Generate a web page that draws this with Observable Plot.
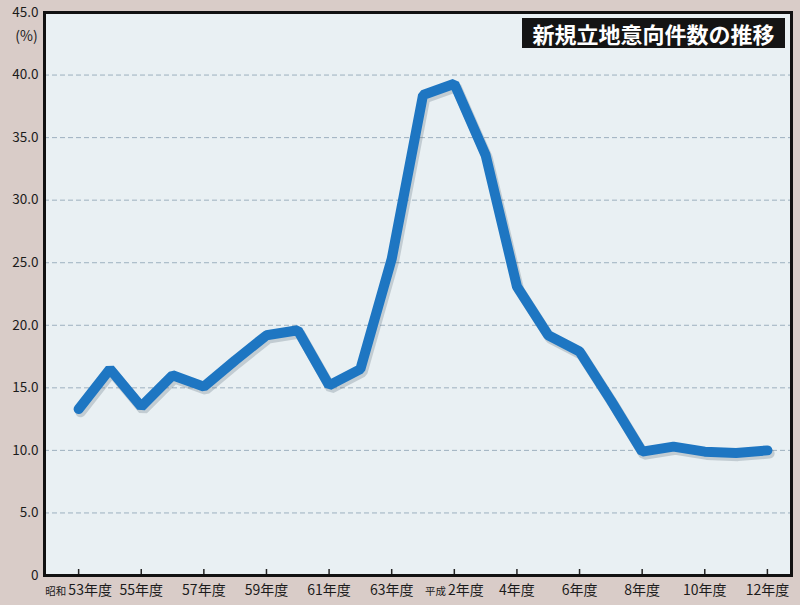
<!DOCTYPE html>
<html>
<head>
<meta charset="utf-8">
<script src="https://cdn.jsdelivr.net/npm/d3@7"></script>
<script src="https://cdn.jsdelivr.net/npm/@observablehq/plot@0.6"></script>
<style>
  body { margin: 0; background: #d9ccc8; }
  #chart { position: relative; width: 800px; height: 605px; }
  #chart svg { display: block; }
  #title {
    position: absolute; left: 522px; top: 18px; width: 263px; height: 30px;
    background: #141414; color: #fff;
    font: bold 22px "Noto Sans CJK JP", sans-serif;
    display: flex; align-items: center; justify-content: center;
  }
</style>
</head>
<body>
<div id="chart"><div id="title">新規立地意向件数の推移</div></div>
<script>
// Fiscal years 昭和53 (1978) through 平成12 (2000)
const fiscalYears = [1978, 1979, 1980, 1981, 1982, 1983, 1984, 1985, 1986, 1987, 1988,
  1989, 1990, 1991, 1992, 1993, 1994, 1995, 1996, 1997, 1998, 1999, 2000];
// Share of new siting intentions (%)
const shares = [13.3, 16.5, 13.5, 16.0, 15.1, 17.2, 19.2, 19.6, 15.2, 16.5, 25.3,
  38.4, 39.3, 33.6, 23.1, 19.2, 17.9, 14.0, 9.9, 10.3, 9.9, 9.8, 10.0];
const tickYears = [1978, 1980, 1982, 1984, 1986, 1988, 1990, 1992, 1994, 1996, 1998, 2000];
const tickLabels = ["昭和53年度", "55年度", "57年度", "59年度", "61年度", "63年度",
  "平成2年度", "4年度", "6年度", "8年度", "10年度", "12年度"];
const yTicks = [0, 5, 10, 15, 20, 25, 30, 35, 40, 45];

const data = fiscalYears.map((year, i) => ({year, share: shares[i]}));

const chart = Plot.plot({
  width: 800,
  height: 605,
  marginLeft: 44,
  marginRight: 9,
  marginTop: 12,
  marginBottom: 30,
  style: {background: "transparent", fontFamily: "'Noto Sans CJK JP', sans-serif", color: "#1b1b1b"},
  x: {domain: [1976.91, 2000.77]},
  y: {domain: [0, 45]},
  marks: [
    Plot.frame({fill: "#e9f0f3", stroke: null}),
    Plot.gridY(yTicks.slice(1, -1), {stroke: "#7d96aa", strokeOpacity: 0.7, strokeDasharray: "5,3", strokeWidth: 1}),
    // soft shadow under the series line
    Plot.line(data, {x: "year", y: "share", stroke: "#5f6f7c", strokeOpacity: 0.28, strokeWidth: 10.5,
      dx: 2, dy: 3, strokeLinejoin: "miter", strokeLinecap: "round"}),
    Plot.line(data, {x: "year", y: "share", stroke: "#1e76c2", strokeWidth: 10,
      strokeLinejoin: "miter", strokeLinecap: "round"}),
    Plot.tickX(tickYears, {stroke: "#222", strokeWidth: 1.5, insetTop: 557}),
    Plot.frame({stroke: "#111", strokeWidth: 3}),
    Plot.axisY(yTicks, {tickSize: 0, tickPadding: 6, fontSize: 13.5, label: null,
      tickFormat: d => d === 0 ? "0" : d.toFixed(1)}),
    Plot.axisX(tickYears, {tickSize: 0, tickPadding: 10, fontSize: 14, label: null,
      tickFormat: d => tickLabels[tickYears.indexOf(d)]}),
    Plot.text(["(%)"], {frameAnchor: "top-left", dx: -18, dy: 19, fontSize: 14, textAnchor: "middle", fill: "#1b1b1b"})
  ]
});

// Era prefixes (昭和 / 平成) are set smaller than the year text
d3.select(chart).selectAll("g[aria-label='x-axis tick label'] text").each(function () {
  const s = this.textContent;
  const m = s.match(/^(昭和|平成)(.*)$/);
  if (m) {
    const t = d3.select(this);
    t.text(null);
    t.append("tspan").attr("font-size", 10.5).text(m[1]);
    t.append("tspan").attr("dx", 2).text(m[2]);
  }
});

const holder = document.getElementById("chart");
holder.insertBefore(chart, holder.firstChild);
</script>
</body>
</html>
